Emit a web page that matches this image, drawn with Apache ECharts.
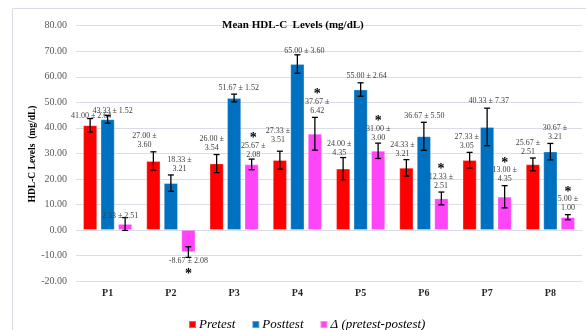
<!DOCTYPE html>
<html>
<head>
<meta charset="utf-8">
<script src="https://cdn.jsdelivr.net/npm/echarts@6/dist/echarts.min.js"></script>
<style>
  html, body { margin: 0; padding: 0; background: #fff; }
  #chart { width: 586px; height: 330px; }
</style>
</head>
<body>
<div id="chart"></div>
<script>
// ---------- DATA ----------
const categories = ['P1', 'P2', 'P3', 'P4', 'P5', 'P6', 'P7', 'P8'];
const pretest    = [41.00, 27.00, 26.00, 27.33, 24.00, 24.33, 27.33, 25.67];
const pretestSD  = [2.64, 3.60, 3.54, 3.51, 4.35, 3.21, 3.05, 2.51];
const posttest   = [43.33, 18.33, 51.67, 65.00, 55.00, 36.67, 40.33, 30.67];
const posttestSD = [1.52, 3.21, 1.52, 3.60, 2.64, 5.50, 7.37, 3.21];
const delta      = [2.33, -8.67, 25.67, 37.67, 31.00, 12.33, 13.00, 5.00];
const deltaSD    = [2.51, 2.08, 2.08, 6.42, 3.00, 2.51, 4.35, 1.00];
const deltaSignificant = [false, true, true, true, true, true, true, true];
const yTicks = { min: -20, max: 80, interval: 10 };

// ---------- LAYOUT (label placement, not data) ----------
const wrapPre   = [false, true, true, true, true, true, true, true];
const wrapPost  = [false, true, false, false, false, false, false, true];
const wrapDelta = [false, false, true, true, true, true, true, true];
const dxPre   = [1, -9, -5, -2, -4, -4, -3, -5];
const dxPost  = [5, 8.5, 4.6, 7, 6, 0.5, 1.6, 4.6];
const dxDelta = [-5, 0, 1.5, 2.3, 0, -0.5, 0, 0];
const dyPre   = [4, 0, 0, -5, 2, 1, 0, 0];
const dyPost  = [2, 0, 0, 3, 0, 0, -1, 0];
const dyDelta = [5, 0, 2, 0, 1, 0, 0, 0];

const SERIF = '"Liberation Serif", "Times New Roman", serif';
const BAR_W = 14;
const BAR_GAP = 3.5;
const colors = ['#ff0000', '#0070c0', '#ff45f8'];

function fmt(v) { return v.toFixed(2); }

function makeErrorSeries(name, values, sds, offsetIndex, wrap, dx, dy, sig) {
  const data = values.map((v, i) => [i, v, sds[i]]);
  return {
    type: 'custom',
    name: name + ' err',
    z: 10,
    data: data,
    renderItem: function (params, api) {
      const i = api.value(0), v = api.value(1), sd = api.value(2);
      const base = api.coord([i, v]);
      const x = base[0] + offsetIndex * (BAR_W + BAR_GAP);
      const yHi = api.coord([i, v + sd])[1];
      const yLo = api.coord([i, v - sd])[1];
      const cap = 3;
      const ls = { stroke: '#000', lineWidth: 1.3 };
      const children = [
        { type: 'line', shape: { x1: x, y1: yHi, x2: x, y2: yLo }, style: ls },
        { type: 'line', shape: { x1: x - cap, y1: yHi, x2: x + cap, y2: yHi }, style: ls },
        { type: 'line', shape: { x1: x - cap, y1: yLo, x2: x + cap, y2: yLo }, style: ls }
      ];
      const txt = wrap[i] ? (fmt(v) + ' \u00b1\n' + fmt(sd)) : (fmt(v) + ' \u00b1 ' + fmt(sd));
      const nLines = wrap[i] ? 2 : 1;
      const LH = 9;
      const tx = x + dx[i];
      if (v >= 0) {
        const bottom = yHi - 2 + dy[i];
        children.push({
          type: 'text', x: tx, y: bottom,
          style: { text: txt, font: '8px ' + SERIF, fill: '#404040', align: 'center', verticalAlign: 'bottom', lineHeight: LH }
        });
        if (sig && sig[i]) {
          const firstCenter = bottom - nLines * LH + LH / 2;
          children.push({
            type: 'text', x: tx, y: firstCenter - 10 + 3,
            style: { text: '*', font: 'bold 14px ' + SERIF, fill: '#000', align: 'center', verticalAlign: 'middle' }
          });
        }
      } else {
        const top = yLo - 1 + dy[i];
        children.push({
          type: 'text', x: tx, y: top,
          style: { text: txt, font: '8px ' + SERIF, fill: '#404040', align: 'center', verticalAlign: 'top', lineHeight: LH }
        });
        if (sig && sig[i]) {
          const lastCenter = top + nLines * LH - LH / 2;
          children.push({
            type: 'text', x: tx, y: lastCenter + 10.7 + 3,
            style: { text: '*', font: 'bold 14px ' + SERIF, fill: '#000', align: 'center', verticalAlign: 'middle' }
          });
        }
      }
      return { type: 'group', children: children };
    }
  };
}

const chart = echarts.init(document.getElementById('chart'), null, { renderer: 'canvas' });

const barCommon = {
  type: 'bar',
  barWidth: BAR_W,
  barGap: (BAR_GAP / BAR_W * 100) + '%',
  itemStyle: { borderColor: 'rgba(255,255,255,0.35)', borderWidth: 0.8 }
};

const option = {
  animation: false,
  textStyle: { fontFamily: SERIF },
  title: {
    text: 'Mean HDL-C  Levels (mg/dL)',
    left: 222, top: 20, padding: 0,
    textStyle: { fontFamily: SERIF, fontWeight: 'bold', fontSize: 11, color: '#000' }
  },
  legend: {
    data: ['Pretest', 'Posttest', '\u0394 (pretest-postest)'],
    left: 183, top: 313,
    icon: 'rect', itemWidth: 7, itemHeight: 7, itemGap: 16,
    textStyle: { fontFamily: SERIF, fontStyle: 'italic', fontSize: 13, color: '#000', padding: [0, 0, 0, -2] }
  },
  grid: { left: 76, right: 4, top: 25.7, bottom: 49 },
  xAxis: {
    type: 'category',
    data: categories,
    axisLine: { onZero: true, lineStyle: { color: '#d9dde5' } },
    axisTick: { show: false },
    axisLabel: { fontFamily: SERIF, fontWeight: 'bold', fontSize: 10, color: '#262626', margin: 7 }
  },
  yAxis: {
    type: 'value',
    min: yTicks.min, max: yTicks.max, interval: yTicks.interval,
    axisLine: { show: false },
    axisTick: { show: false },
    splitLine: { lineStyle: { color: '#d9dde5', width: 1 } },
    axisLabel: { fontFamily: SERIF, fontSize: 10, color: '#595959', margin: 9, formatter: v => v.toFixed(2) }
  },
  graphic: [
    { type: 'rect', shape: { x: 12.5, y: 8.5, width: 800, height: 500 }, style: { fill: 'none', stroke: '#d9dde5', lineWidth: 1 }, silent: true },
    { type: 'text', x: 33, y: 154, rotation: Math.PI / 2,
      style: { text: 'HDL-C Levels  (mg/dL)', font: 'bold 9.5px ' + SERIF, fill: '#000', align: 'center', verticalAlign: 'middle' } }
  ],
  series: [
    Object.assign({}, barCommon, { name: 'Pretest', data: pretest, itemStyle: Object.assign({}, barCommon.itemStyle, { color: colors[0] }) }),
    Object.assign({}, barCommon, { name: 'Posttest', data: posttest, itemStyle: Object.assign({}, barCommon.itemStyle, { color: colors[1] }) }),
    Object.assign({}, barCommon, { name: '\u0394 (pretest-postest)', data: delta, itemStyle: Object.assign({}, barCommon.itemStyle, { color: colors[2] }) }),
    makeErrorSeries('Pretest', pretest, pretestSD, -1, wrapPre, dxPre, dyPre, null),
    makeErrorSeries('Posttest', posttest, posttestSD, 0, wrapPost, dxPost, dyPost, null),
    makeErrorSeries('Delta', delta, deltaSD, 1, wrapDelta, dxDelta, dyDelta, deltaSignificant)
  ]
};

chart.setOption(option);
</script>
</body>
</html>
